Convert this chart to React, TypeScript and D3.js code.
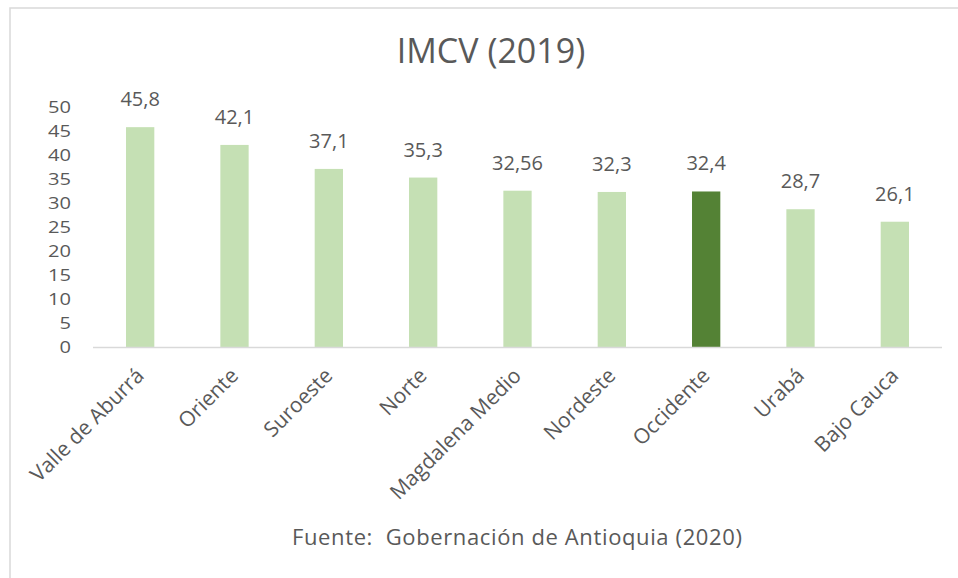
import React from "react";
import * as d3 from "d3";

const categories = ["Valle de Aburrá", "Oriente", "Suroeste", "Norte", "Magdalena Medio", "Nordeste", "Occidente", "Urabá", "Bajo Cauca"];
const values = [45.8, 42.1, 37.1, 35.3, 32.56, 32.3, 32.4, 28.7, 26.1];
const highlighted = ["Occidente"];
const yTicks = [0, 5, 10, 15, 20, 25, 30, 35, 40, 45, 50];
const title = "IMCV (2019)";
const source = "Fuente:  Gobernación de Antioquia (2020)";

const W = 958;
const H = 578;
const FONT = "'Open Sans', 'Noto Sans', sans-serif";
const TEXT = "#595959";

export default function App() {
  const x = d3.scaleBand<string>().domain(categories).range([93, 942]).padding(0);
  const y = d3.scaleLinear().domain([0, 50]).range([347, 107]);
  const barW = x.bandwidth() * 0.3;
  const fmt = (v: number) => String(v).replace(".", ",");

  return (
    <svg width={W} height={H} style={{ position: "absolute", left: 0, top: 0, background: "#fff" }}>
      <rect x={0} y={0} width={W} height={H} fill="#fff" />
      <rect x={10} y={8} width={W + 20} height={H + 20} fill="none" stroke="#d9d9d9" strokeWidth={1.5} />
      <text x={491} y={63} textAnchor="middle" fontFamily={FONT} fontSize={34} fill={TEXT}>{title}</text>
      {yTicks.map((t) => (
        <text key={t} x={71} y={y(t)} dy="0.35em" textAnchor="end" fontFamily={FONT} fontSize={17} fill={TEXT} textLength={String(t).length * 11.5} lengthAdjust="spacingAndGlyphs">{t}</text>
      ))}
      {categories.map((c, i) => {
        const cx = (x(c) as number) + x.bandwidth() / 2;
        const v = values[i];
        return (
          <g key={c}>
            <rect x={cx - barW / 2} y={y(v)} width={barW} height={y(0) - y(v)} fill={highlighted.includes(c) ? "#548235" : "#c5e0b4"} />
            <text x={cx} y={y(v) - 21} textAnchor="middle" fontFamily={FONT} fontSize={20} fill={TEXT}>{fmt(v)}</text>
            <text transform={`translate(${cx + 5},${y(0) + 30}) rotate(-45)`} textAnchor="end" fontFamily={FONT} fontSize={21} fill={TEXT}>{c}</text>
          </g>
        );
      })}
      <line x1={93} x2={942} y1={y(0) + 0.5} y2={y(0) + 0.5} stroke="#d9d9d9" strokeWidth={1.5} />
      <text x={517} y={545} textAnchor="middle" fontFamily={FONT} fontSize={22} fill={TEXT} textLength={450} lengthAdjust="spacing" style={{ whiteSpace: "pre" }}>{source}</text>
    </svg>
  );
}
